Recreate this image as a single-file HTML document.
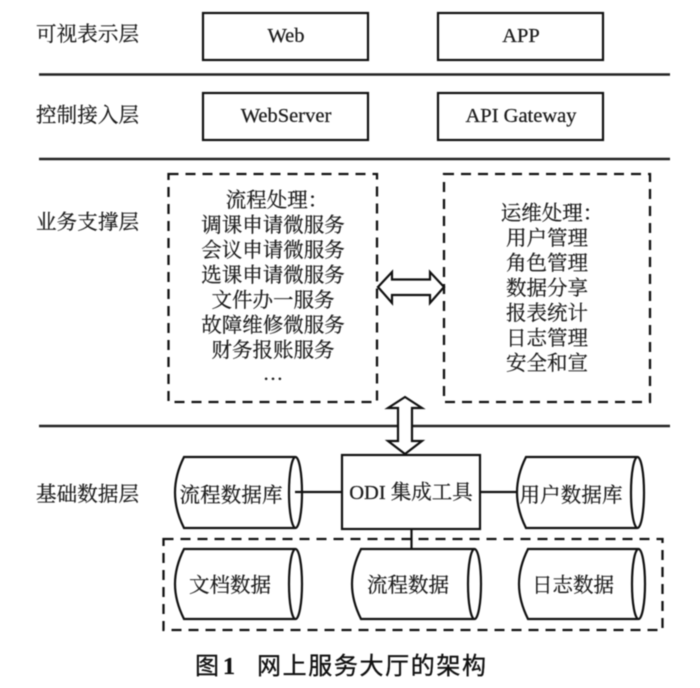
<!DOCTYPE html>
<html lang="zh">
<head>
<meta charset="utf-8">
<title>网上服务大厅的架构</title>
<style>
html,body{margin:0;padding:0;background:#fff;width:700px;height:688px;overflow:hidden}
svg{display:block;filter:blur(.5px)}
text{font-family:"Liberation Serif","Noto Serif CJK SC",serif;fill:#1c1c1c;stroke:#1c1c1c;stroke-width:.25;font-size:20.500px;text-anchor:middle}
.lab{text-anchor:start}
.b{fill:#fff;stroke:#111;stroke-width:2.200}
.d{fill:none;stroke:#111;stroke-width:2.300;stroke-dasharray:10 7}
.l{stroke:#222;stroke-width:2.500}
.c{stroke:#111;stroke-width:2.200;fill:none}
.cap{font-size:24px;font-family:"Liberation Sans","Noto Sans CJK SC",sans-serif;fill:#111;stroke:#111;stroke-width:.35}
</style>
</head>
<body>
<svg width="700" height="688" viewBox="0 0 700 688" xmlns="http://www.w3.org/2000/svg">
<rect width="700" height="688" fill="#fff"/>
<line class="l" x1="39" y1="74.500" x2="670" y2="74.500"/>
<line class="l" x1="39" y1="159" x2="670" y2="159"/>
<line class="l" x1="39" y1="426" x2="670" y2="426"/>

<text class="lab" x="36" y="41" textLength="103" lengthAdjust="spacing">可视表示层</text>
<text class="lab" x="36" y="122" textLength="103" lengthAdjust="spacing">控制接入层</text>
<text class="lab" x="36" y="229" textLength="103" lengthAdjust="spacing">业务支撑层</text>
<text class="lab" x="36" y="501" textLength="103" lengthAdjust="spacing">基础数据层</text>

<rect class="b" x="203" y="13" width="165" height="47"/>
<rect class="b" x="438" y="13" width="165" height="47"/>
<rect class="b" x="203" y="93" width="165" height="47"/>
<rect class="b" x="438" y="93" width="165" height="47"/>
<text x="286" y="42">Web</text>
<text x="521" y="42">APP</text>
<text x="286" y="122">WebServer</text>
<text x="521" y="122">API Gateway</text>

<rect class="d" x="168.500" y="174" width="208.500" height="228"/>
<rect class="d" x="444" y="174" width="206" height="228"/>
<g>
<text x="277" y="207">流程处理：</text>
<text x="273" y="232">调课申请微服务</text>
<text x="273" y="257">会议申请微服务</text>
<text x="273" y="282">选课申请微服务</text>
<text x="273" y="307">文件办一服务</text>
<text x="273" y="332">故障维修微服务</text>
<text x="273" y="357">财务报账服务</text>
<text x="273" y="380">…</text>
<text x="552" y="220">运维处理：</text>
<text x="547" y="245">用户管理</text>
<text x="547" y="270">角色管理</text>
<text x="547" y="295">数据分享</text>
<text x="547" y="320">报表统计</text>
<text x="547" y="345">日志管理</text>
<text x="547" y="370">安全和宣</text>
</g>

<path class="b" d="M378 287 L392 272 V279.500 H430 V272 L444 287 L430 303 V295 H392 V303 Z"/>
<path class="b" d="M405 397 L422 408 H412 V441 H422 L405 454 L388 441 H398 V408 H388 Z"/>

<line class="c" x1="295" y1="492" x2="342" y2="492"/>
<line class="c" x1="480" y1="492" x2="517" y2="492"/>
<line class="c" x1="411.500" y1="529" x2="411.500" y2="549"/>
<rect class="b" x="342" y="455" width="138" height="74"/>
<text x="411" y="499"><tspan>ODI </tspan>集成工具</text>

<path class="c" d="M295 457 H184 Q175 475 175 492.500 Q175 510 184 528 H295"/>
<ellipse class="c" cx="295.500" cy="492.500" rx="6.500" ry="35.500"/>
<text x="231" y="502" textLength="103" lengthAdjust="spacing">流程数据库</text>

<path class="c" d="M637 457 H526 Q517 475 517 492.500 Q517 510 526 528 H637"/>
<ellipse class="c" cx="637.500" cy="492.500" rx="6.500" ry="35.500"/>
<text x="571" y="502" textLength="103" lengthAdjust="spacing">用户数据库</text>

<rect class="d" x="163.500" y="539" width="499" height="91"/>

<path class="c" d="M295 549 H184 Q175 567 175 584 Q175 601 184 619 H295"/>
<ellipse class="c" cx="295.500" cy="584" rx="6.500" ry="35"/>
<text x="230" y="592" textLength="82" lengthAdjust="spacing">文档数据</text>

<path class="c" d="M474 549 H361 Q352 567 352 584 Q352 601 361 619 H474"/>
<ellipse class="c" cx="474.500" cy="584" rx="6.500" ry="35"/>
<text x="408" y="592" textLength="82" lengthAdjust="spacing">流程数据</text>

<path class="c" d="M638 549 H528 Q519 567 519 584 Q519 601 528 619 H638"/>
<ellipse class="c" cx="638.500" cy="584" rx="6.500" ry="35"/>
<text x="573" y="592" textLength="82" lengthAdjust="spacing">日志数据</text>

<text class="cap" x="207" y="674">图</text>
<text class="cap" x="229" y="674" style="font-weight:bold;font-family:'Liberation Serif',serif">1</text>
<text class="cap" x="371.500" y="674" textLength="229" lengthAdjust="spacing">网上服务大厅的架构</text>
</svg>
</body>
</html>
